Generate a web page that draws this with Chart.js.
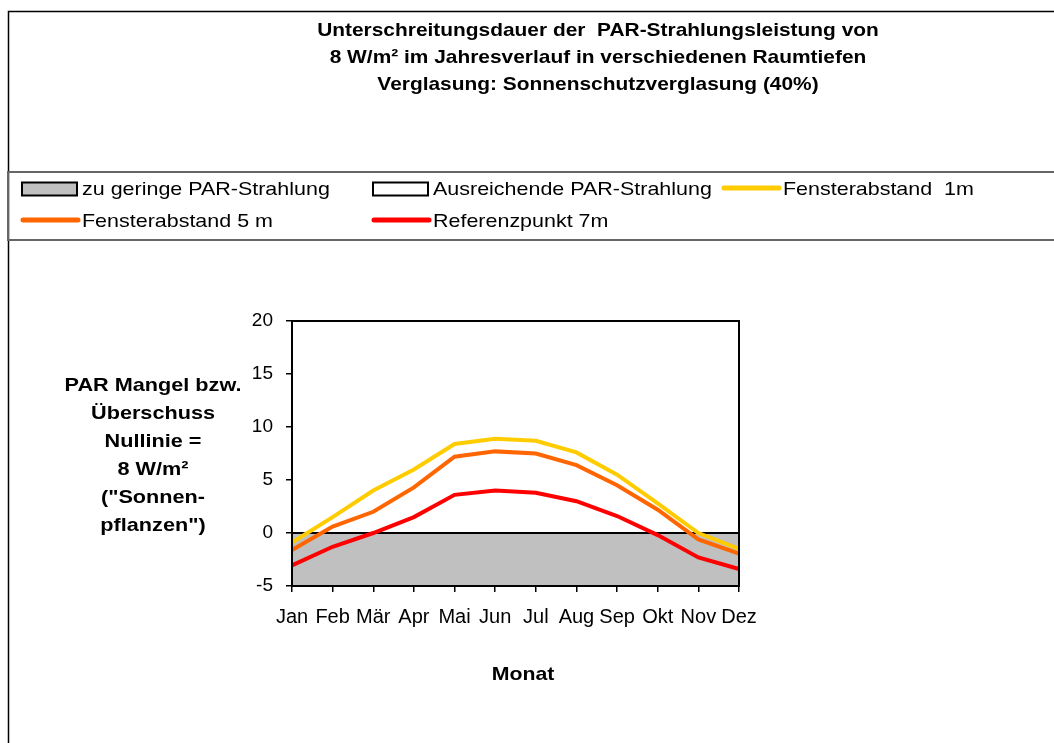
<!DOCTYPE html>
<html lang="de">
<head>
    <meta charset="UTF-8">
    <title>PAR-Strahlung</title>
    <script src="https://cdn.jsdelivr.net/npm/chart.js"></script>
    <style>
        body { margin: 0; background: #fff; }
        #parChart { display: block; }
    </style>
</head>
<body>
    <canvas id="parChart" width="1054" height="743"></canvas>

    <script>
        // data
        const months = ['Jan', 'Feb', 'Mär', 'Apr', 'Mai', 'Jun', 'Jul', 'Aug', 'Sep', 'Okt', 'Nov', 'Dez'];
        const abstand1m = [-0.9, 1.5, 4.0, 6.0, 8.4, 8.9, 8.7, 7.6, 5.5, 2.8, 0.0, -1.5];
        const abstand5m = [-1.6, 0.6, 2.0, 4.3, 7.2, 7.7, 7.5, 6.4, 4.5, 2.2, -0.6, -1.95];
        const referenz7m = [-3.05, -1.3, 0.0, 1.5, 3.6, 4.0, 3.8, 3.0, 1.6, -0.2, -2.3, -3.4];
        const nullLinie = months.map(() => 0);
        const obereGrenze = months.map(() => 20);
        const yTicks = [-5, 0, 5, 10, 15, 20];

        const titleLines = [
            'Unterschreitungsdauer der  PAR-Strahlungsleistung von',
            '8 W/m² im Jahresverlauf in verschiedenen Raumtiefen',
            'Verglasung: Sonnenschutzverglasung (40%)'
        ];
        const yTitleLines = ['PAR Mangel bzw.', 'Überschuss', 'Nullinie =', '8 W/m²', '("Sonnen-', 'pflanzen")'];
        const xTitle = 'Monat';

        const FONT = '"Liberation Sans", Arial, sans-serif';

        // text in the reference is a bit wider than Arial, so stretch it slightly
        function wideText(ctx, text, x, y, sx) {
            ctx.save();
            ctx.translate(x, y);
            ctx.scale(sx, 1);
            ctx.fillText(text, 0, 0);
            ctx.restore();
        }

        // frame, titles and legend drawn on the canvas
        const decoPlugin = {
            id: 'deco',
            beforeDraw(chart) {
                const ctx = chart.ctx;
                ctx.save();
                ctx.fillStyle = '#fff';
                ctx.fillRect(0, 0, chart.width, chart.height);
                // outer frame
                ctx.strokeStyle = '#000';
                ctx.lineWidth = 1.5;
                ctx.beginPath();
                ctx.moveTo(8.5, chart.height);
                ctx.lineTo(8.5, 11.5);
                ctx.lineTo(chart.width, 11.5);
                ctx.stroke();
                ctx.restore();
            },
            afterDraw(chart) {
                const ctx = chart.ctx;
                const area = chart.chartArea;
                ctx.save();
                ctx.fillStyle = '#000';
                ctx.textAlign = 'center';
                ctx.textBaseline = 'middle';

                // main title
                ctx.font = 'bold 19px ' + FONT;
                titleLines.forEach((t, i) => wideText(ctx, t, 598, 31 + i * 27, 1.1));

                // y axis title (horizontal, several lines)
                yTitleLines.forEach((t, i) => wideText(ctx, t, 153, 386 + i * 28, 1.14));

                // x axis title
                wideText(ctx, xTitle, 523, 675, 1.12);

                // legend box
                ctx.strokeStyle = '#666';
                ctx.lineWidth = 2;
                ctx.strokeRect(8, 172, chart.width + 20, 68);

                const cols = [22, 373, 723];
                const rows = [189, 221];
                ctx.textAlign = 'left';
                ctx.font = '19px ' + FONT;
                chart.data.datasets.forEach((ds, i) => {
                    const x = cols[i % 3];
                    const y = rows[Math.floor(i / 3)];
                    if (ds.fill) {
                        ctx.fillStyle = ds.backgroundColor;
                        ctx.fillRect(x, y - 6.5, 55, 13);
                        ctx.strokeStyle = '#000';
                        ctx.lineWidth = 2;
                        ctx.strokeRect(x, y - 6.5, 55, 13);
                    } else {
                        ctx.strokeStyle = ds.borderColor;
                        ctx.lineWidth = 5;
                        ctx.lineCap = 'round';
                        ctx.beginPath();
                        ctx.moveTo(x + 1, y - 1);
                        ctx.lineTo(x + 56, y - 1);
                        ctx.stroke();
                        ctx.lineCap = 'butt';
                    }
                    ctx.fillStyle = '#000';
                    wideText(ctx, ds.label, x + 60, y + 1, 1.13);
                });

                // plot area border
                ctx.strokeStyle = '#000';
                ctx.lineWidth = 2;
                ctx.strokeRect(area.left, area.top, area.right - area.left, area.bottom - area.top);
                ctx.restore();
            }
        };

        const ctx = document.getElementById('parChart').getContext('2d');
        const parChart = new Chart(ctx, {
            type: 'line',
            data: {
                labels: months,
                datasets: [
                    {
                        label: 'zu geringe PAR-Strahlung',
                        data: nullLinie,
                        fill: { value: -5 },
                        backgroundColor: '#c0c0c0',
                        borderColor: '#000',
                        borderWidth: 2,
                        pointRadius: 0,
                        order: 10
                    },
                    {
                        label: 'Ausreichende PAR-Strahlung',
                        data: obereGrenze,
                        fill: { value: 0 },
                        backgroundColor: '#ffffff',
                        borderColor: '#000',
                        borderWidth: 0,
                        pointRadius: 0,
                        order: 11
                    },
                    {
                        label: 'Fensterabstand  1m',
                        data: abstand1m,
                        fill: false,
                        borderColor: '#ffcc00',
                        backgroundColor: '#ffcc00',
                        borderWidth: 4,
                        pointRadius: 0,
                        order: 3
                    },
                    {
                        label: 'Fensterabstand 5 m',
                        data: abstand5m,
                        fill: false,
                        borderColor: '#ff6600',
                        backgroundColor: '#ff6600',
                        borderWidth: 4,
                        pointRadius: 0,
                        order: 2
                    },
                    {
                        label: 'Referenzpunkt 7m',
                        data: referenz7m,
                        fill: false,
                        borderColor: '#ff0000',
                        backgroundColor: '#ff0000',
                        borderWidth: 4,
                        pointRadius: 0,
                        order: 1
                    }
                ]
            },
            options: {
                responsive: false,
                animation: false,
                layout: {
                    padding: { left: 232, right: 315, top: 321, bottom: 97 }
                },
                plugins: {
                    legend: { display: false },
                    title: { display: false },
                    tooltip: { enabled: false }
                },
                scales: {
                    x: {
                        offset: false,
                        grid: { drawOnChartArea: false, drawTicks: true, tickLength: 6, color: '#000', lineWidth: 1.5 },
                        border: { display: true, color: '#000', width: 2 },
                        ticks: {
                            autoSkip: false,
                            maxRotation: 0,
                            padding: 13,
                            color: '#000',
                            font: { family: FONT, size: 20 }
                        },
                        afterFit(scale) { scale.height = 60; }
                    },
                    y: {
                        min: -5,
                        max: 20,
                        afterBuildTicks(scale) { scale.ticks = yTicks.map(v => ({ value: v })); },
                        grid: { drawOnChartArea: false, drawTicks: true, tickLength: 6, color: '#000', lineWidth: 1.5 },
                        border: { display: true, color: '#000', width: 2 },
                        ticks: {
                            padding: 13,
                            color: '#000',
                            font: { family: FONT, size: 19 }
                        },
                        afterFit(scale) { scale.width = 60; }
                    }
                }
            },
            plugins: [decoPlugin]
        });
    </script>
</body>
</html>
